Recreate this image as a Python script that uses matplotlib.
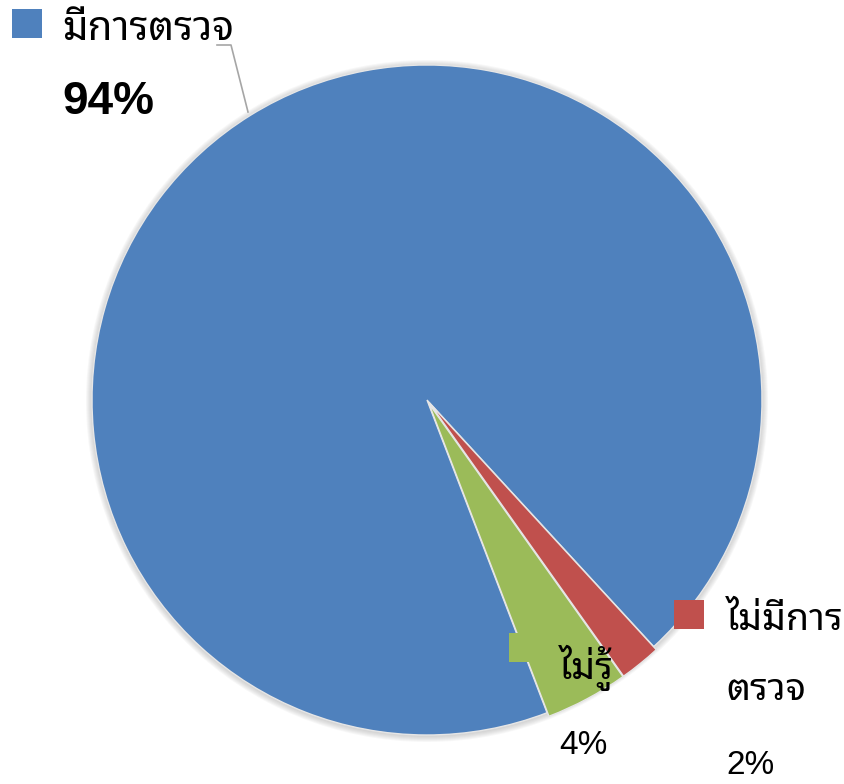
import matplotlib
matplotlib.use("Agg")
import matplotlib.pyplot as plt
from matplotlib.patches import Circle, Rectangle

# data
labels = ["มีการตรวจ", "ไม่มีการ\nตรวจ", "ไม่รู้"]
values = [94, 2, 4]
colors = ["#4F81BD", "#C0504D", "#9BBB59"]

W, H = 844, 784
THAI = ["Noto Sans Thai Looped", "Liberation Sans", "DejaVu Sans"]

fig = plt.figure(figsize=(W / 100, H / 100), dpi=100)
ax = fig.add_axes([0, 0, 1, 1])

cx, cy, r = 427, H - 400, 335

# soft shadow round the pie
for i in range(6):
    ax.add_patch(Circle((cx, cy - 1), r + 1 + i, color="#808080", alpha=0.06, lw=0, zorder=0))

ax.pie(values, colors=colors, startangle=291, counterclock=False,
       center=(cx, cy), radius=r, explode=[0, 4, 4],
       wedgeprops=dict(edgecolor="#e6e6e6", linewidth=1, zorder=1))

ax.set_xlim(0, W)
ax.set_ylim(0, H)
ax.set_aspect("auto")
ax.axis("off")

pct = [f"{v}%" for v in values]


def key(x, y, c):
    ax.add_patch(Rectangle((x, H - y - 29), 30, 29, color=c, lw=0, zorder=3))


# มีการตรวจ
key(12, 9, colors[0])
ax.text(62, H - 30, labels[0], family=THAI, fontsize=29, fontweight="bold",
        va="center", ha="left", zorder=4)
ax.text(62, H - 102, pct[0], family=["Liberation Sans"], fontsize=33, fontweight="bold",
        va="center", ha="left", zorder=4)
ax.plot([217, 231, 248], [H - 45, H - 45, H - 112], color="#a6a6a6", lw=1.2, zorder=2)

# ไม่มีการ ตรวจ
key(674, 600, colors[1])
for j, line in enumerate(labels[1].split("\n")):
    ax.text(726, H - 620 - j * 70, line, family=THAI, fontsize=27, fontweight="light",
            va="center", ha="left", zorder=4)
ax.text(726, H - 766, pct[1], family=["Liberation Sans"], fontsize=24,
        va="center", ha="left", zorder=4)

# ไม่รู้
key(509, 633, colors[2])
ax.text(559, H - 668, labels[2], family=THAI, fontsize=27, fontweight="light",
        va="center", ha="left", zorder=4)
ax.text(559, H - 746, pct[2], family=["Liberation Sans"], fontsize=24,
        va="center", ha="left", zorder=4)

fig.savefig("out.png", dpi=100, facecolor="white")
